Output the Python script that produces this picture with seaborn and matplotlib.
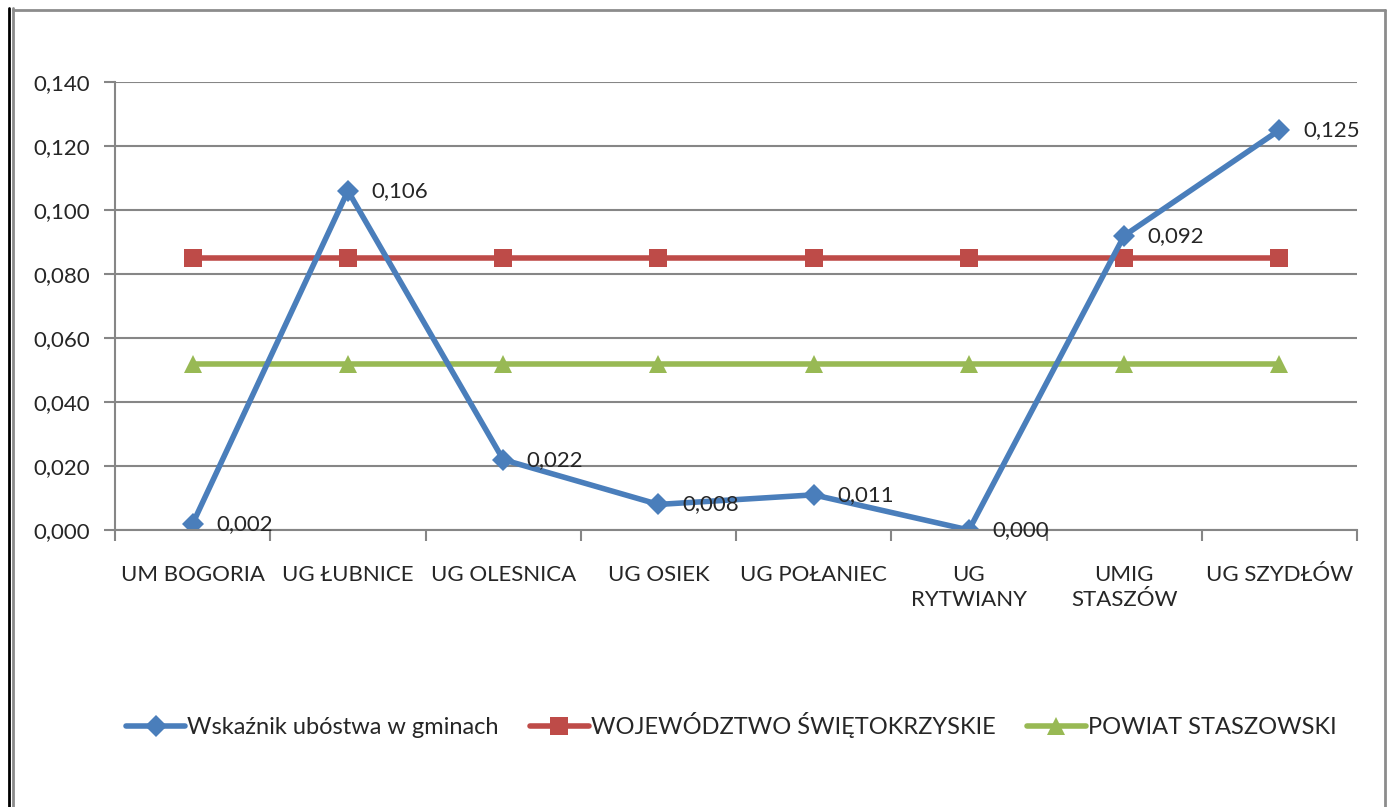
import pandas as pd
import seaborn as sns
import matplotlib.pyplot as plt
from matplotlib.lines import Line2D

# dane
gminy = ['UM BOGORIA', 'UG ŁUBNICE', 'UG OLESNICA', 'UG OSIEK', 'UG POŁANIEC',
         'UG\nRYTWIANY', 'UMIG\nSTASZÓW', 'UG SZYDŁÓW']
wskaznik = [0.002, 0.106, 0.022, 0.008, 0.011, 0.000, 0.092, 0.125]
wojewodztwo = [0.085] * 8
powiat = [0.052] * 8
serie = ['Wskaźnik ubóstwa w gminach', 'WOJEWÓDZTWO ŚWIĘTOKRZYSKIE', 'POWIAT STASZOWSKI']

df = pd.DataFrame({'x': list(range(len(gminy))) * 3,
                   'y': wskaznik + wojewodztwo + powiat,
                   'seria': [serie[0]] * 8 + [serie[1]] * 8 + [serie[2]] * 8})

sns.set_style('white')
plt.rcParams['font.family'] = ['Lato', 'DejaVu Sans']

kolory = {serie[0]: '#4a7ebb', serie[1]: '#be4b48', serie[2]: '#98b954'}
markery = {serie[0]: 'D', serie[1]: 's', serie[2]: '^'}
rozmiary = {serie[0]: 11, serie[1]: 13, serie[2]: 13}
fs = 16

fig = plt.figure(figsize=(13.93, 8.07), dpi=100)
ax = fig.add_axes([0.0826, 0.3432, 0.8916, 0.5551])

# kolejność rysowania: czerwona, zielona, niebieska na wierzchu
for s in [serie[1], serie[2], serie[0]]:
    sub = df[df['seria'] == s]
    sns.lineplot(data=sub, x='x', y='y', ax=ax, color=kolory[s], marker=markery[s],
                 markersize=rozmiary[s], markeredgewidth=0, linewidth=4, legend=False)

# etykiety danych
for i, v in enumerate(wskaznik):
    ax.annotate(f'{v:.3f}'.replace('.', ','), (i, v), xytext=(17, 0),
                textcoords='offset points', va='center', ha='left', fontsize=fs)

ax.set_xlim(-0.5, len(gminy) - 0.5)
ax.set_ylim(0, 0.14)
yt = [i * 0.02 for i in range(8)]
ax.set_yticks(yt)
ax.set_yticklabels([f'{t:.3f}'.replace('.', ',') for t in yt], fontsize=fs)
ax.set_xticks(range(len(gminy)))
ax.set_xticklabels(gminy, fontsize=fs, va='top', linespacing=1.3)
ax.set_xticks([i - 0.5 for i in range(len(gminy) + 1)], minor=True)
ax.set_xlabel('')
ax.set_ylabel('')

ax.grid(axis='y', color='#868686', linewidth=1.5)
ax.set_axisbelow(True)
for k in ['top', 'right']:
    ax.spines[k].set_visible(False)
for k in ['left', 'bottom']:
    ax.spines[k].set_color('#868686')
    ax.spines[k].set_linewidth(1.5)
ax.tick_params(axis='y', which='major', left=True, length=8, width=1.5, color='#868686', pad=10)
ax.tick_params(axis='x', which='major', bottom=False, pad=22)
ax.tick_params(axis='x', which='minor', bottom=True, length=8, width=1.5, color='#868686')

# legenda
uchwyty = [Line2D([0], [0], color=kolory[s], marker=markery[s], markersize=rozmiary[s],
                  markeredgewidth=0, linewidth=4) for s in serie]
fig.legend(uchwyty, serie, loc='center', bbox_to_anchor=(0.525, 0.101), ncol=3, frameon=False,
           fontsize=17, handlelength=2.5, handletextpad=0.1, columnspacing=1.3)

# ramka wykresu
fig.add_artist(Line2D([0.0065, 0.0065], [0, 0.99], transform=fig.transFigure, color='black', linewidth=2))
fig.add_artist(Line2D([0.009, 0.009], [0, 0.99], transform=fig.transFigure, color='#8c8c8c', linewidth=2))
fig.add_artist(Line2D([0.009, 0.9945], [0.988, 0.988], transform=fig.transFigure, color='#8c8c8c', linewidth=2))
fig.add_artist(Line2D([0.9945, 0.9945], [0, 0.988], transform=fig.transFigure, color='#8c8c8c', linewidth=2))

fig.savefig('out.png', dpi=100)
